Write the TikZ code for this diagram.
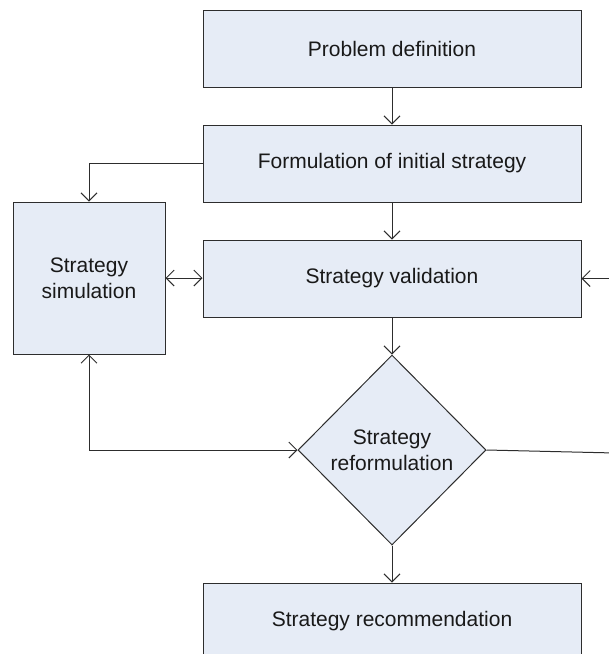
\documentclass[tikz,border=0pt]{standalone}
\usepackage{fontspec}
\setmainfont{Liberation Sans}
\usetikzlibrary{arrows.meta,shapes.geometric}
\definecolor{boxfill}{RGB}{230,236,246}
\definecolor{edge}{RGB}{45,45,45}
\definecolor{ink}{RGB}{25,25,25}
\begin{document}
\begin{tikzpicture}[x=1pt,y=1pt,
  box/.style={draw=edge,fill=boxfill,line width=1pt,minimum width=378pt,minimum height=77pt,
    inner sep=0pt,font=\fontsize{21}{26}\selectfont,text=ink,align=center},
  sidebox/.style={box,minimum width=152pt,minimum height=152pt},
  decision/.style={draw=edge,fill=boxfill,line width=1pt,diamond,aspect=1,inner sep=0pt,
    minimum width=188pt,minimum height=190pt,font=\fontsize{21}{26}\selectfont,text=ink,align=center},
  link/.style={draw=edge,line width=1pt,arrows={-Straight Barb[length=8pt,width=16pt]}},
  biglink/.style={link,arrows={Straight Barb[length=8pt,width=16pt]-Straight Barb[length=8pt,width=16pt]}},
  plain/.style={draw=edge,line width=1pt}]
\useasboundingbox (0,0) rectangle (609,-654);

\node[box] (prob) at (392,-48.5) {Problem definition};
\node[box] (form) at (392,-163.5) {Formulation of initial strategy};
\node[box] (val) at (392,-278.5) {Strategy validation};
\node[sidebox] (sim) at (89,-278) {Strategy\\simulation};
\node[decision] (dia) at (392,-450) {Strategy\\reformulation};
\node[box] (rec) at (392,-621.5) {Strategy recommendation};

% loop returning from the right side
\coordinate (rin) at (615,-278.5);
\coordinate (rout) at (615,-453);

\draw[link] (prob) -- (form);
\draw[link] (form) -- (val);
\draw[link] (form.west) -| (sim.north);
\draw[biglink] (sim.east) -- (val.west |- sim.east);
\draw[link] (val) -- (dia);
\draw[link] (dia) -- (rec);
\draw[biglink] (dia.west) -| (sim.south);
\draw[plain] (dia.east) -- (rout);
\draw[link] (rin) -- (val.east);
\end{tikzpicture}
\end{document}
